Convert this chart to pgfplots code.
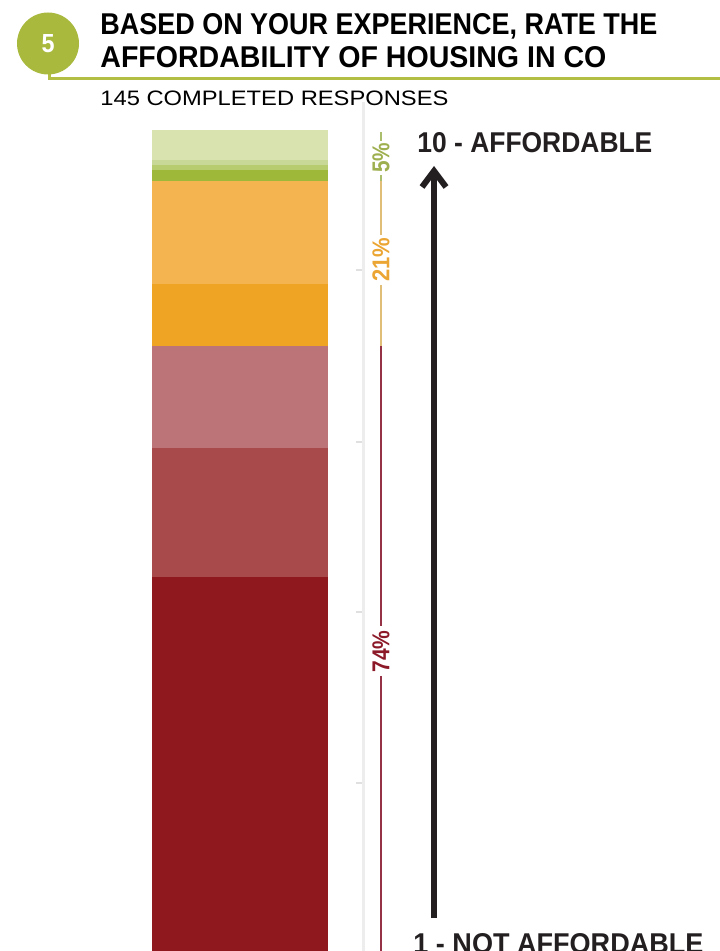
\documentclass[border=0pt]{standalone}
\usepackage{pgfplots}
\pgfplotsset{compat=1.18}
\usepackage{graphicx}
\usepackage{fontspec}
\setmainfont{Liberation Sans}
\definecolor{cten}{HTML}{D8E3B0}
\definecolor{cnine}{HTML}{C8D896}
\definecolor{ceight}{HTML}{B6CC6E}
\definecolor{cseven}{HTML}{9EB93A}
\definecolor{csix}{HTML}{F4B550}
\definecolor{cfive}{HTML}{F0A423}
\definecolor{cfour}{HTML}{BC7478}
\definecolor{cthree}{HTML}{A8494B}
\definecolor{ctwo}{HTML}{8E181E}
\definecolor{hdr}{HTML}{A9B93E}
\definecolor{hdrline}{HTML}{B2BE44}
\definecolor{lblgreen}{HTML}{9DAF4E}
\definecolor{lblorange}{HTML}{EBA532}
\definecolor{lblred}{HTML}{8C1928}
\definecolor{lngreen}{HTML}{AABE6E}
\definecolor{lntan}{HTML}{E1BE78}
\definecolor{lnred}{HTML}{963246}
\definecolor{ink}{HTML}{231F20}
\begin{document}
\begin{tikzpicture}
\path[use as bounding box] (0,0) rectangle (359.5pt,-475.5pt);
\begin{scope}[x=0.5pt,y=-0.5pt]
% header
\draw[hdrline, line width=1.5pt] (49,70) -- (49,79) -- (720,79);
\fill[hdr] (48,43.5) circle (31);
\node[text=white, inner sep=0pt] at (48,43.5) {\resizebox{6.5pt}{9pt}{\bfseries 5}};
\node[anchor=base west, inner sep=0pt] at (100,35) {\resizebox{278.5pt}{10.5pt}{\bfseries BASED ON YOUR EXPERIENCE, RATE THE}};
\node[anchor=base west, inner sep=0pt] at (100,68) {\resizebox{253pt}{10.5pt}{\bfseries AFFORDABILITY OF HOUSING IN CO}};
\node[anchor=base west, inner sep=0pt] at (100,106) {\resizebox{174pt}{7.3pt}{145 COMPLETED RESPONSES}};
% arrow
\draw[ink, line width=3pt] (434,918) -- (434,172);
\draw[ink, line width=3pt, miter limit=10] (422,187) -- (434,171) -- (446,187);
\node[anchor=base west, inner sep=0pt, text=ink] at (417,153) {\resizebox{117.5pt}{10pt}{\bfseries 10 - AFFORDABLE}};
\node[anchor=base west, inner sep=0pt, text=ink] at (413,953) {\resizebox{145pt}{10pt}{\bfseries 1 - NOT AFFORDABLE}};
\end{scope}
\begin{axis}[at={(76pt,-65pt)}, anchor=north west, scale only axis,
  width=88pt, height=410.5pt, xmin=0, xmax=1, ymin=0, ymax=100,
  hide axis, clip=false, ybar stacked, bar width=88pt, bar shift=0pt]
\addplot[fill=ctwo, draw=none] coordinates {(0.5,45.51)};
\addplot[fill=cthree, draw=none] coordinates {(0.5,15.76)};
\addplot[fill=cfour, draw=none] coordinates {(0.5,12.46)};
\addplot[fill=cfive, draw=none] coordinates {(0.5,7.55)};
\addplot[fill=csix, draw=none] coordinates {(0.5,12.55)};
\addplot[fill=cseven, draw=none] coordinates {(0.5,1.30)};
\addplot[fill=ceight, draw=none] coordinates {(0.5,0.61)};
\addplot[fill=cnine, draw=none] coordinates {(0.5,0.61)};
\addplot[fill=cten, draw=none] coordinates {(0.5,3.65)};
% faint scale line
\draw[black!7, line width=1.5pt] (axis cs:1.199,103.45) -- (axis cs:1.199,-1);
\draw[black!12, line width=1pt] (axis cs:1.159,20.46) -- (axis cs:1.199,20.46);
\draw[black!12, line width=1pt] (axis cs:1.159,41.3) -- (axis cs:1.199,41.3);
\draw[black!12, line width=1pt] (axis cs:1.159,62.0) -- (axis cs:1.199,62.0);
\draw[black!12, line width=1pt] (axis cs:1.159,82.95) -- (axis cs:1.199,82.95);
% brackets (with gaps for labels)
\draw[lngreen, line width=0.8pt] (axis cs:1.301,99.76) -- (axis cs:1.301,98.7);
\draw[lngreen, line width=0.8pt] (axis cs:1.301,94.5) -- (axis cs:1.301,93.8);
\draw[lntan, line width=0.8pt] (axis cs:1.301,93.8) -- (axis cs:1.301,87.2);
\draw[lntan, line width=0.8pt] (axis cs:1.301,81.1) -- (axis cs:1.301,73.75);
\draw[lnred, line width=0.8pt] (axis cs:1.301,73.75) -- (axis cs:1.301,39.6);
\draw[lnred, line width=0.8pt] (axis cs:1.301,33.5) -- (axis cs:1.301,-1);
\node[rotate=90, inner sep=0pt, text=lblgreen] at (axis cs:1.301,96.6) {\resizebox{15pt}{8.5pt}{\bfseries 5\%}};
\node[rotate=90, inner sep=0pt, text=lblorange] at (axis cs:1.301,84.2) {\resizebox{22pt}{8.5pt}{\bfseries 21\%}};
\node[rotate=90, inner sep=0pt, text=lblred] at (axis cs:1.301,36.5) {\resizebox{21pt}{8.5pt}{\bfseries 74\%}};
\end{axis}
\end{tikzpicture}
\end{document}
